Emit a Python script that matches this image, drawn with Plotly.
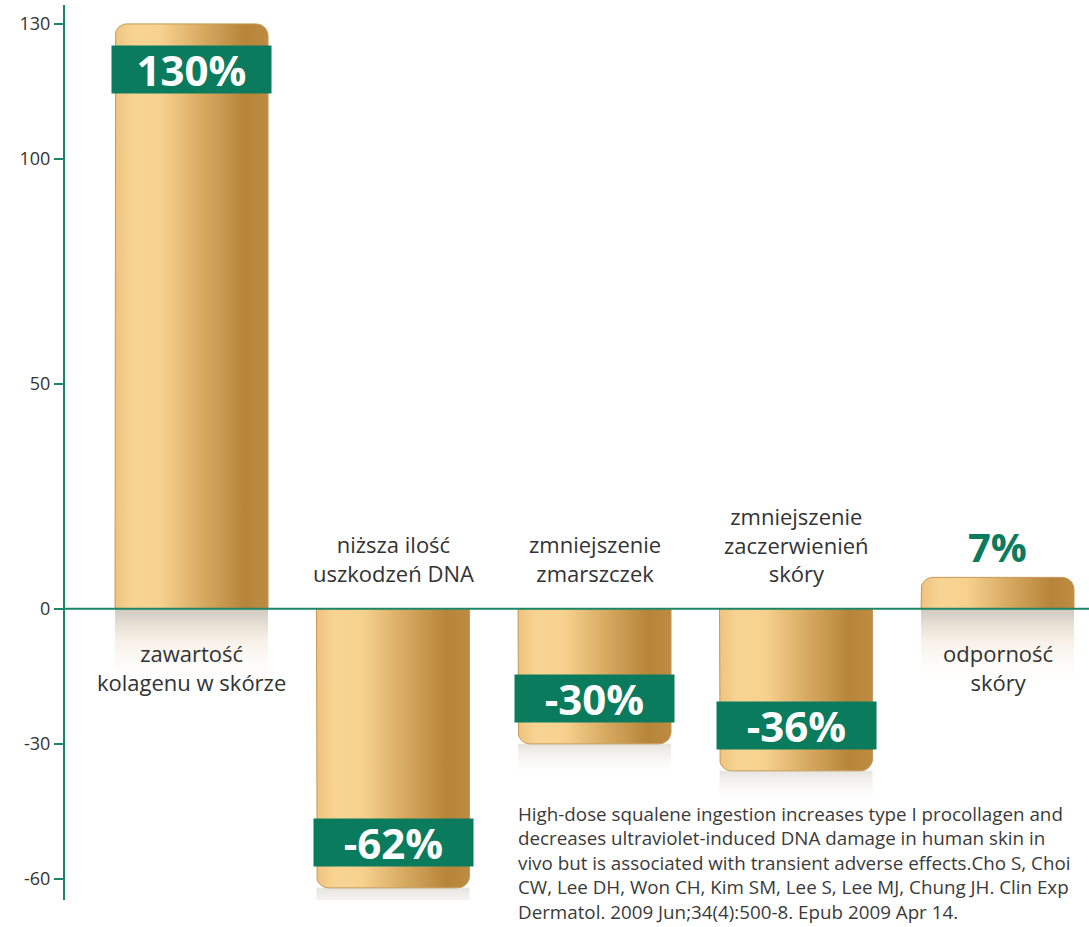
import math
import plotly.graph_objects as go

# ---- data ----
categories = ["zawartość<br>kolagenu w skórze", "niższa ilość<br>uszkodzeń DNA",
              "zmniejszenie<br>zmarszczek", "zmniejszenie<br>zaczerwienień<br>skóry",
              "odporność<br>skóry"]
values = [130, -62, -30, -36, 7]
value_labels = ["130%", "-62%", "-30%", "-36%", "7%"]
tick_vals = [130, 100, 50, 0, -30, -60]
tick_text = ["130", "100", "50", "0", "-30", "-60"]
citation = ("High-dose squalene ingestion increases type I procollagen and<br>"
            "decreases ultraviolet-induced DNA damage in human skin in<br>"
            "vivo but is associated with transient adverse effects.Cho S, Choi<br>"
            "CW, Lee DH, Won CH, Kim SM, Lee S, Lee MJ, Chung JH. Clin Exp<br>"
            "Dermatol. 2009 Jun;34(4):500-8. Epub 2009 Apr 14.")

# ---- style ----
GREEN_AX = "#1b8767"
GREEN_BOX = "#0a7b5d"
TEXT = "#333333"
FONT = "Open Sans"
W, H = 1089, 927
ML, MR, MT, MB = 65, 0, 5, 27
YR = [-64.7, 134.2]
XR = [-0.628, 4.454]
px_x = (W - ML - MR) / (XR[1] - XR[0])
px_y = (H - MT - MB) / (YR[1] - YR[0])
half_w = 76.5 / px_x
rad_px = 12
rx, ry = rad_px / px_x, rad_px / px_y

bar_scale = [[0, "#eec37e"], [0.12, "#f8d494"], [0.3, "#f7d18e"],
             [0.6, "#d4a65d"], [0.85, "#b6853a"], [1, "#bd8c42"]]

fig = go.Figure()

def bar_path(xc, v):
    s = 1 if v >= 0 else -1
    xs, ys = [xc - half_w], [0]
    for k in range(0, 11):
        a = math.pi - k * (math.pi / 2) / 10
        xs.append(xc - half_w + rx + rx * math.cos(a))
        ys.append(v - s * ry + s * ry * math.sin(a))
    for k in range(0, 11):
        a = math.pi / 2 - k * (math.pi / 2) / 10
        xs.append(xc + half_w - rx + rx * math.cos(a))
        ys.append(v - s * ry + s * ry * math.sin(a))
    xs.append(xc + half_w)
    ys.append(0)
    xs.append(xs[0]); ys.append(ys[0])
    return xs, ys

for i, v in enumerate(values):
    if v > 0:
        fig.add_trace(go.Scatter(
            x=[i - half_w, i + half_w, i + half_w, i - half_w, i - half_w],
            y=[0, 0, -18, -18, 0], mode="lines", line=dict(width=0),
            fill="toself",
            fillgradient=dict(type="vertical",
                              colorscale=[[0, "rgba(255,255,255,0)"],
                                          [0.6, "rgba(235,220,195,0.4)"],
                                          [1, "rgba(180,170,155,0.65)"]]),
            hoverinfo="skip", showlegend=False))
    else:
        fig.add_trace(go.Scatter(
            x=[i - half_w, i + half_w, i + half_w, i - half_w, i - half_w],
            y=[v, v, v - 8, v - 8, v], mode="lines", line=dict(width=0),
            fill="toself",
            fillgradient=dict(type="vertical",
                              colorscale=[[0, "rgba(255,255,255,0)"],
                                          [1, "rgba(200,195,185,0.45)"]]),
            hoverinfo="skip", showlegend=False))
    xs, ys = bar_path(i, v)
    fig.add_trace(go.Scatter(
        x=xs, y=ys, mode="lines", fill="toself",
        line=dict(color="#c39a56", width=1),
        fillgradient=dict(type="horizontal", colorscale=bar_scale),
        hoverinfo="skip", showlegend=False, name=categories[i].replace("<br>", " ")))

annotations = []
for i, (v, lab, cat) in enumerate(zip(values, value_labels, categories)):
    if abs(v) >= 20:
        annotations.append(dict(
            x=i, y=v, xref="x", yref="y", text="<b>%s</b>" % lab, showarrow=False,
            font=dict(family=FONT, size=42, color="white"),
            bgcolor=GREEN_BOX, width=159, height=47, borderpad=0,
            yanchor="top" if v > 0 else "bottom",
            yshift=-21 if v > 0 else 21))
    else:
        annotations.append(dict(
            x=i, y=v, xref="x", yref="y", text="<b>%s</b>" % lab, showarrow=False,
            font=dict(family=FONT, size=40, color=GREEN_BOX),
            yanchor="bottom", yshift=1))
    annotations.append(dict(
        x=i, y=0, xref="x", yref="y", text=cat, showarrow=False,
        font=dict(family=FONT, size=22, color=TEXT),
        yanchor="top" if v > 0 else "bottom",
        yshift=-27 if v > 0 else 19))

annotations.append(dict(
    x=(516 - ML) / (W - ML - MR), y=(H - MB - 799) / (H - MT - MB),
    xref="paper", yref="paper", text=citation, showarrow=False,
    align="left", xanchor="left", yanchor="top",
    font=dict(family=FONT, size=18.8, color="#3a3a3a")))

fig.update_layout(
    width=W, height=H,
    margin=dict(l=ML, r=MR, t=MT, b=MB, autoexpand=False),
    paper_bgcolor="white", plot_bgcolor="white",
    showlegend=False,
    xaxis=dict(range=XR, visible=False),
    yaxis=dict(range=YR, tickvals=tick_vals, ticktext=tick_text, automargin=False,
               showgrid=False, zeroline=False, showline=True,
               linecolor=GREEN_AX, linewidth=2, ticks="outside", ticklen=9,
               tickwidth=2, tickcolor=GREEN_AX,
               tickfont=dict(family=FONT, size=18, color=TEXT)),
    annotations=annotations,
    shapes=[dict(type="line", xref="paper", yref="y", x0=0, x1=1, y0=0, y1=0,
                 line=dict(color=GREEN_AX, width=2), layer="above")],
)

fig.write_html("out.html", config={"displayModeBar": False},
               post_script="document.body.style.margin='0';")
